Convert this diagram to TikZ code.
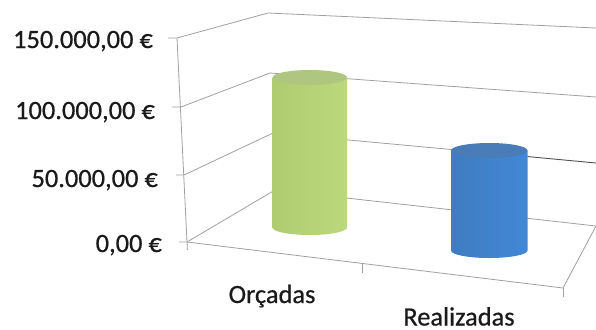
\documentclass[tikz,border=0pt]{standalone}
\usepackage{fontspec}
\setmainfont{Carlito}[FakeBold=0.6]
\definecolor{gridgray}{HTML}{A0A0A0}
\definecolor{griddark}{HTML}{505050}
\definecolor{textdark}{HTML}{1A1A1A}
\definecolor{gleft}{HTML}{B0CC70}
\definecolor{gmid}{HTML}{D2EC96}
\definecolor{gright}{HTML}{BCD87C}
\definecolor{gtop}{HTML}{AEC680}
\definecolor{bleft}{HTML}{3F7CC2}
\definecolor{bmid}{HTML}{50A4F0}
\definecolor{bright}{HTML}{4288D6}
\definecolor{btop}{HTML}{4A7CB8}
\begin{document}
\begin{tikzpicture}[x=1bp,y=-1bp,
  grid/.style={draw=gridgray,line width=0.8bp},
  lbl/.style={font=\fontsize{26.5}{30}\selectfont,text=textdark,inner sep=0pt,anchor=base east},
  cat/.style={font=\fontsize{26.5}{30}\selectfont,text=textdark,inner sep=0pt,anchor=base}]
\useasboundingbox[fill=white] (0,0) rectangle (596,329);
% axis points
\coordinate (a150) at (177,38);
\coordinate (a100) at (181,107);
\coordinate (a50) at (184,175);
\coordinate (a0) at (187,242);
\coordinate (abot) at (187.4,250);
% back corner
\coordinate (c150) at (268,13);
\coordinate (c100) at (270,73);
\coordinate (c50) at (273,133);
\coordinate (c0) at (275,190);
% right ends
\coordinate (r150) at (596,28);
\coordinate (r100) at (596,97);
\coordinate (r50) at (596,163);
\coordinate (rb) at (528,156.6);
\coordinate (r0) at (596,226);
% front right corner
\coordinate (f0) at (563,288);
% tick starts
\coordinate (t150) at (168,38);
\coordinate (t100) at (172,107);
\coordinate (t50) at (176,175);
\coordinate (t0) at (179,242);
\path (a0) -- (f0) coordinate[pos=0.4654] (m0);
% grid
\draw[grid] (a150) -- (abot);
\draw[grid] (t150) -- (a150) -- (c150) -- (r150);
\draw[grid] (t100) -- (a100) -- (c100) -- (r100);
\draw[grid] (t50) -- (a50) -- (c50) -- (rb);
\draw[draw=griddark,line width=0.9bp] (rb) -- (r50);
\draw[grid] (t0) -- (a0) -- (c0) -- (r0);
\draw[grid] (a0) -- (f0) -- (r0);
\draw[grid] (m0) -- ++(0,10);
\draw[grid] (f0) -- ++(0,9);
% green cylinder
\shade[left color=gleft,middle color=gmid,right color=gright]
  (272.5,77.5) -- (272.5,227.5) arc[start angle=180,end angle=0,x radius=37.25,y radius=7.5] -- (347,77.5) -- cycle;
\fill[gtop] (309.75,77.5) ellipse[x radius=37.25,y radius=7.5];
% blue cylinder
\shade[left color=bleft,middle color=bmid,right color=bright]
  (451,150.5) -- (451,250.5) arc[start angle=180,end angle=0,x radius=38.25,y radius=7.5] -- (527.5,150.5) -- cycle;
\fill[btop] (489.25,150.5) ellipse[x radius=38.25,y radius=7.5];
% labels
\node[lbl] (l150) at (153,48) {150.000,00 €};
\node[lbl] (l100) at (155,119) {100.000,00 €};
\node[lbl] (l50) at (158,187) {50.000,00 €};
\node[lbl] (l0) at (162,252) {0,00 €};
\node[cat] (orc) at (272,303) {Orçadas};
\node[cat] (rea) at (459,325.5) {Realizadas};
\end{tikzpicture}
\end{document}
